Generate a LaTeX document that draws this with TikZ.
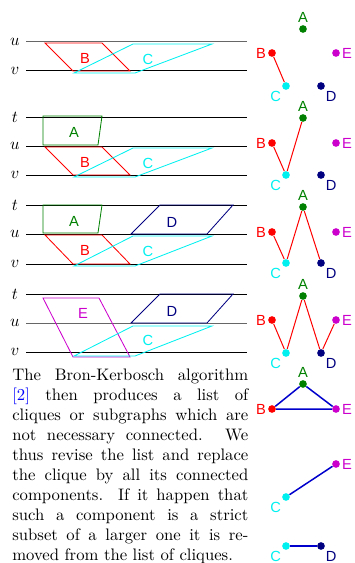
\documentclass[tikz,border=0pt]{standalone}
\usepackage{fontspec}
\newfontfamily\labelfont{Liberation Sans}
\usetikzlibrary{positioning}
\definecolor{cgreen}{RGB}{0,128,0}
\definecolor{cnavy}{RGB}{0,0,128}
\definecolor{cmag}{RGB}{204,0,204}
\definecolor{ccyan}{RGB}{0,240,240}
\definecolor{cblue}{RGB}{0,0,204}

\begin{document}
\begin{tikzpicture}[
    x=0.6pt, y=-0.6pt,
    level/.style={line width=0.6pt},
    band/.style={line width=0.5pt},
    tag/.style={font=\labelfont\fontsize{8.8}{10}\selectfont, inner sep=1pt},
    var/.style={inner sep=0pt},
    vtx/.style={circle, inner sep=0pt, minimum size=4.6pt},
    va/.style={vtx, fill=cgreen, label={[tag, text=cgreen]above:A}},
    vb/.style={vtx, fill=red, label={[tag, text=red]left:B}},
    vc/.style={vtx, fill=ccyan, label={[tag, text=ccyan]below left:C}},
    vd/.style={vtx, fill=cnavy, label={[tag, text=cnavy]below right:D}},
    ve/.style={vtx, fill=cmag, label={[tag, text=cmag]right:E}},
    edge/.style={red, line width=0.6pt},
    keep/.style={cblue, line width=0.9pt}
    ]
    \useasboundingbox (0,0) rectangle (354,563);

    % panel 1
    \node[var] (u1) at (15,42) {$u$};
    \node[var] (v1) at (15,71) {$v$};
    \draw[level, black!60] (26,42) -- (247,42);
    \draw[level] (26,71) -- (247,71);
    \draw[band, red] (45,43) -- (102,43) -- (130,71) -- (73,71) -- cycle;
    \draw[band, ccyan] (133,44) -- (212,44) -- (135,73) -- (74,73) -- cycle;
    \node[tag, text=red] (b1) at (85,58) {B};
    \node[tag, text=ccyan] (c1) at (148,59) {C};

    % panel 2
    \node[var] (t2) at (15,117) {$t$};
    \node[var] (u2) at (15,146) {$u$};
    \node[var] (v2) at (15,175) {$v$};
    \draw[level] (26,117) -- (247,117);
    \draw[level] (26,146) -- (247,146);
    \draw[level] (26,175) -- (247,175);
    \draw[band, cgreen] (43,116) -- (102,116) -- (98,145) -- (43,145) -- cycle;
    \draw[band, red] (45,147) -- (102,147) -- (130,175) -- (73,175) -- cycle;
    \draw[band, ccyan] (133,148) -- (212,148) -- (135,177) -- (74,177) -- cycle;
    \node[tag, text=cgreen] (a2) at (74,132) {A};
    \node[tag, text=red] (b2) at (85,162) {B};
    \node[tag, text=ccyan] (c2) at (148,163) {C};

    % panel 3
    \node[var] (t3) at (15,205) {$t$};
    \node[var] (u3) at (15,234) {$u$};
    \node[var] (v3) at (15,264) {$v$};
    \draw[level] (26,205) -- (247,205);
    \draw[level] (26,234) -- (247,234);
    \draw[level] (26,264) -- (247,264);
    \draw[band, cgreen] (43,205) -- (102,205) -- (98,233) -- (43,233) -- cycle;
    \draw[band, cnavy] (160,205) -- (233,205) -- (207,234) -- (131,234) -- cycle;
    \draw[band, red] (45,235) -- (102,235) -- (130,264) -- (73,264) -- cycle;
    \draw[band, ccyan] (133,236) -- (212,236) -- (135,266) -- (74,266) -- cycle;
    \node[tag, text=cgreen] (a3) at (74,221) {A};
    \node[tag, text=cnavy] (d3) at (172,222) {D};
    \node[tag, text=red] (b3) at (85,250) {B};
    \node[tag, text=ccyan] (c3) at (148,251) {C};

    % panel 4
    \node[var] (t4) at (15,294) {$t$};
    \node[var] (u4) at (15,323) {$u$};
    \node[var] (v4) at (15,352) {$v$};
    \draw[level] (26,294) -- (247,294);
    \draw[level, black!60] (26,323) -- (247,323);
    \draw[level] (26,352) -- (247,352);
    \draw[band, cmag] (43,298) -- (99,298) -- (130,357) -- (73,357) -- cycle;
    \draw[band, cnavy] (160,294) -- (233,294) -- (207,323) -- (131,323) -- cycle;
    \draw[band, ccyan] (133,326) -- (212,326) -- (135,356) -- (74,356) -- cycle;
    \node[tag, text=cmag] (e4) at (83,313) {E};
    \node[tag, text=cnavy] (d4) at (172,311) {D};
    \node[tag, text=ccyan] (c4) at (148,340) {C};

    % graphs
    \node[va] (ga1) at (303,29) {};
    \node[vb] (gb1) at (272,53) {};
    \node[ve] (ge1) at (336,53) {};
    \node[vc] (gc1) at (286,86) {};
    \node[vd] (gd1) at (321,86) {};
    \draw[edge] (gb1) -- (gc1);

    \node[va] (ga2) at (303,118) {};
    \node[vb] (gb2) at (272,143) {};
    \node[ve] (ge2) at (336,143) {};
    \node[vc] (gc2) at (286,175) {};
    \node[vd] (gd2) at (321,175) {};
    \draw[edge] (gb2) -- (gc2) -- (ga2);

    \node[va] (ga3) at (303,207) {};
    \node[vb] (gb3) at (272,232) {};
    \node[ve] (ge3) at (336,232) {};
    \node[vc] (gc3) at (286,263) {};
    \node[vd] (gd3) at (321,263) {};
    \draw[edge] (gb3) -- (gc3) -- (ga3) -- (gd3);

    \node[va] (ga4) at (303,296) {};
    \node[vb] (gb4) at (272,320) {};
    \node[ve] (ge4) at (336,320) {};
    \node[vc] (gc4) at (286,353) {};
    \node[vd] (gd4) at (321,353) {};
    \draw[edge] (gb4) -- (gc4) -- (ga4) -- (gd4) -- (ge4);

    % connected components
    \node[va] (ka) at (303,384) {};
    \node[vb] (kb) at (272,409) {};
    \node[ve] (ke) at (336,409) {};
    \draw[keep] (kb) -- (ka) -- (ke) -- (kb);
    \node[ve] (me) at (336,464) {};
    \node[vc] (mc) at (286,497) {};
    \draw[keep] (mc) -- (me);
    \node[vc] (nc) at (286,546) {};
    \node[vd] (nd) at (321,546) {};
    \draw[keep] (nc) -- (nd);

    \node[anchor=north west, inner sep=0pt, text width=141.6pt, align=justify] (txt) at (12,369)
        {The Bron-Kerbosch algorithm\linebreak
        \textcolor{blue}{[2]} then produces a list of\linebreak
        cliques or subgraphs which are\linebreak
        not necessary connected. We\linebreak
        thus revise the list and replace\linebreak
        the clique by all its connected\linebreak
        components. If it happen that\linebreak
        such a component is a strict\linebreak
        subset of a larger one it is re-\linebreak
        moved from the list of cliques.};
\end{tikzpicture}
\end{document}
